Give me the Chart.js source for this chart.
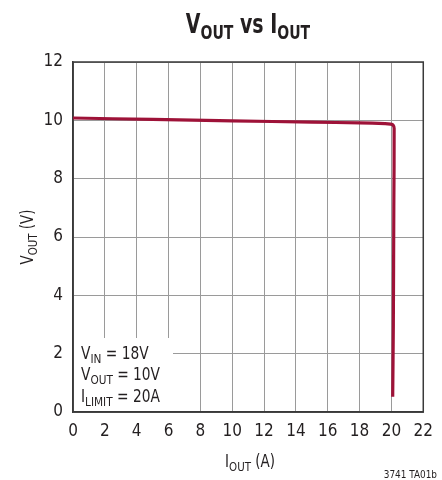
<!DOCTYPE html>
<html><head><meta charset="utf-8">
<script src="https://cdn.jsdelivr.net/npm/chart.js@4"></script>
<style>html,body{margin:0;padding:0;background:#fff}#wrap{width:442px;height:480px}</style>
</head><body><div id="wrap"><canvas id="c" width="442" height="480"></canvas></div>
<script>
const currentA = [0, 5, 10, 15, 18, 19.6, 19.95, 20.1, 20.17, 20.15, 20.12, 20.08];
const voltageV = [10.08, 10.03, 9.98, 9.94, 9.91, 9.89, 9.87, 9.84, 9.72, 7.0, 3.0, 0.52];
const xTicks = [0,2,4,6,8,10,12,14,16,18,20,22];
const yTicks = [0,2,4,6,8,10,12];
const FONT = '"Liberation Sans Narrow","DejaVu Sans Condensed","Liberation Sans",sans-serif';
const INK = '#231f20';

function drawSub(ctx, parts, x, y, align, sx) {
  sx = sx || 1;
  let w = 0;
  parts.forEach(p => { ctx.font = (p.bold?'bold ':'') + p.size + 'px ' + FONT; p.w = ctx.measureText(p.t).width; w += p.w; });
  ctx.save();
  ctx.translate(x, y);
  ctx.scale(sx, 1);
  let cx = align === 'center' ? -w/2 : (align === 'right' ? -w : 0);
  ctx.textAlign = 'left';
  parts.forEach(p => { ctx.font = (p.bold?'bold ':'') + p.size + 'px ' + FONT; ctx.fillText(p.t, cx, (p.dy||0)); cx += p.w; });
  ctx.restore();
}

const textPlugin = {
  id: 'texts',
  beforeDatasetsDraw(chart) {
    const ctx = chart.ctx;
    const a = chart.chartArea;
    ctx.save();
    ctx.fillStyle = '#fff';
    ctx.fillRect(a.left + 1, 338, 99, a.bottom - 338 - 1);
    ctx.strokeStyle = '#3a3a3a';
    ctx.lineWidth = 1.5;
    ctx.strokeRect(a.left, a.top, a.right - a.left, a.bottom - a.top);
    ctx.fillStyle = INK;
    ctx.textBaseline = 'alphabetic';
    drawSub(ctx, [{t:'V',size:17},{t:'IN',size:13,dy:4},{t:' = 18V',size:17}], 81, 359, 'left', 0.9);
    drawSub(ctx, [{t:'V',size:17},{t:'OUT',size:13,dy:4},{t:' = 10V',size:17}], 81, 380, 'left', 0.9);
    drawSub(ctx, [{t:'I',size:17},{t:'LIMIT',size:13,dy:4},{t:' = 20A',size:17}], 81, 402, 'left', 0.9);
    ctx.restore();
  },
  afterDraw(chart) {
    const ctx = chart.ctx;
    ctx.save();
    ctx.fillStyle = INK;
    ctx.textBaseline = 'alphabetic';
    drawSub(ctx, [{t:'V',size:27,bold:true},{t:'OUT',size:20,bold:true,dy:6},{t:' vs I',size:27,bold:true},{t:'OUT',size:20,bold:true,dy:6}], 248, 33, 'center', 0.78);
    drawSub(ctx, [{t:'I',size:17},{t:'OUT',size:13,dy:4},{t:' (A)',size:17}], 250, 467, 'center', 0.88);
    ctx.save();
    ctx.translate(33, 237);
    ctx.rotate(-Math.PI/2);
    drawSub(ctx, [{t:'V',size:17},{t:'OUT',size:13,dy:4},{t:' (V)',size:17}], 0, 0, 'center', 0.88);
    ctx.restore();
    ctx.font = '11px ' + FONT;
    drawSub(ctx, [{t:'3741 TA01b',size:11}], 437, 478, 'right', 0.9);
    ctx.restore();
  }
};

new Chart(document.getElementById('c'), {
  type: 'scatter',
  data: { datasets: [{
    data: currentA.map((x,i)=>({x, y: voltageV[i]})),
    showLine: true, borderColor: '#9e1238', borderWidth: 3.2,
    pointRadius: 0, tension: 0.2, fill: false
  }]},
  options: {
    responsive: false, animation: false,
    layout: { padding: { left: 0, right: 17, top: 62, bottom: 0 } },
    plugins: { legend: {display:false}, tooltip: {enabled:false}, title:{display:false} },
    scales: {
      x: {
        type: 'linear', min: 0, max: 22,
        afterBuildTicks: s => { s.ticks = xTicks.map(v=>({value:v})); },
        afterFit: s => { s.height = 68; },
        grid: { color: '#9a9a9a', lineWidth: 1, drawTicks: false },
        border: { color: '#3a3a3a', width: 1.5 },
        ticks: { padding: 9, color: INK, font: { family: FONT, size: 17 }, maxRotation: 0, autoSkip: false }
      },
      y: {
        type: 'linear', min: 0, max: 12,
        afterBuildTicks: s => { s.ticks = yTicks.map(v=>({value:v})); },
        afterFit: s => { s.width = 73; },
        grid: { color: '#9a9a9a', lineWidth: 1, drawTicks: false },
        border: { color: '#3a3a3a', width: 1.5 },
        ticks: { padding: 10, color: INK, font: { family: FONT, size: 17 } }
      }
    }
  },
  plugins: [textPlugin]
});
</script></body></html>
